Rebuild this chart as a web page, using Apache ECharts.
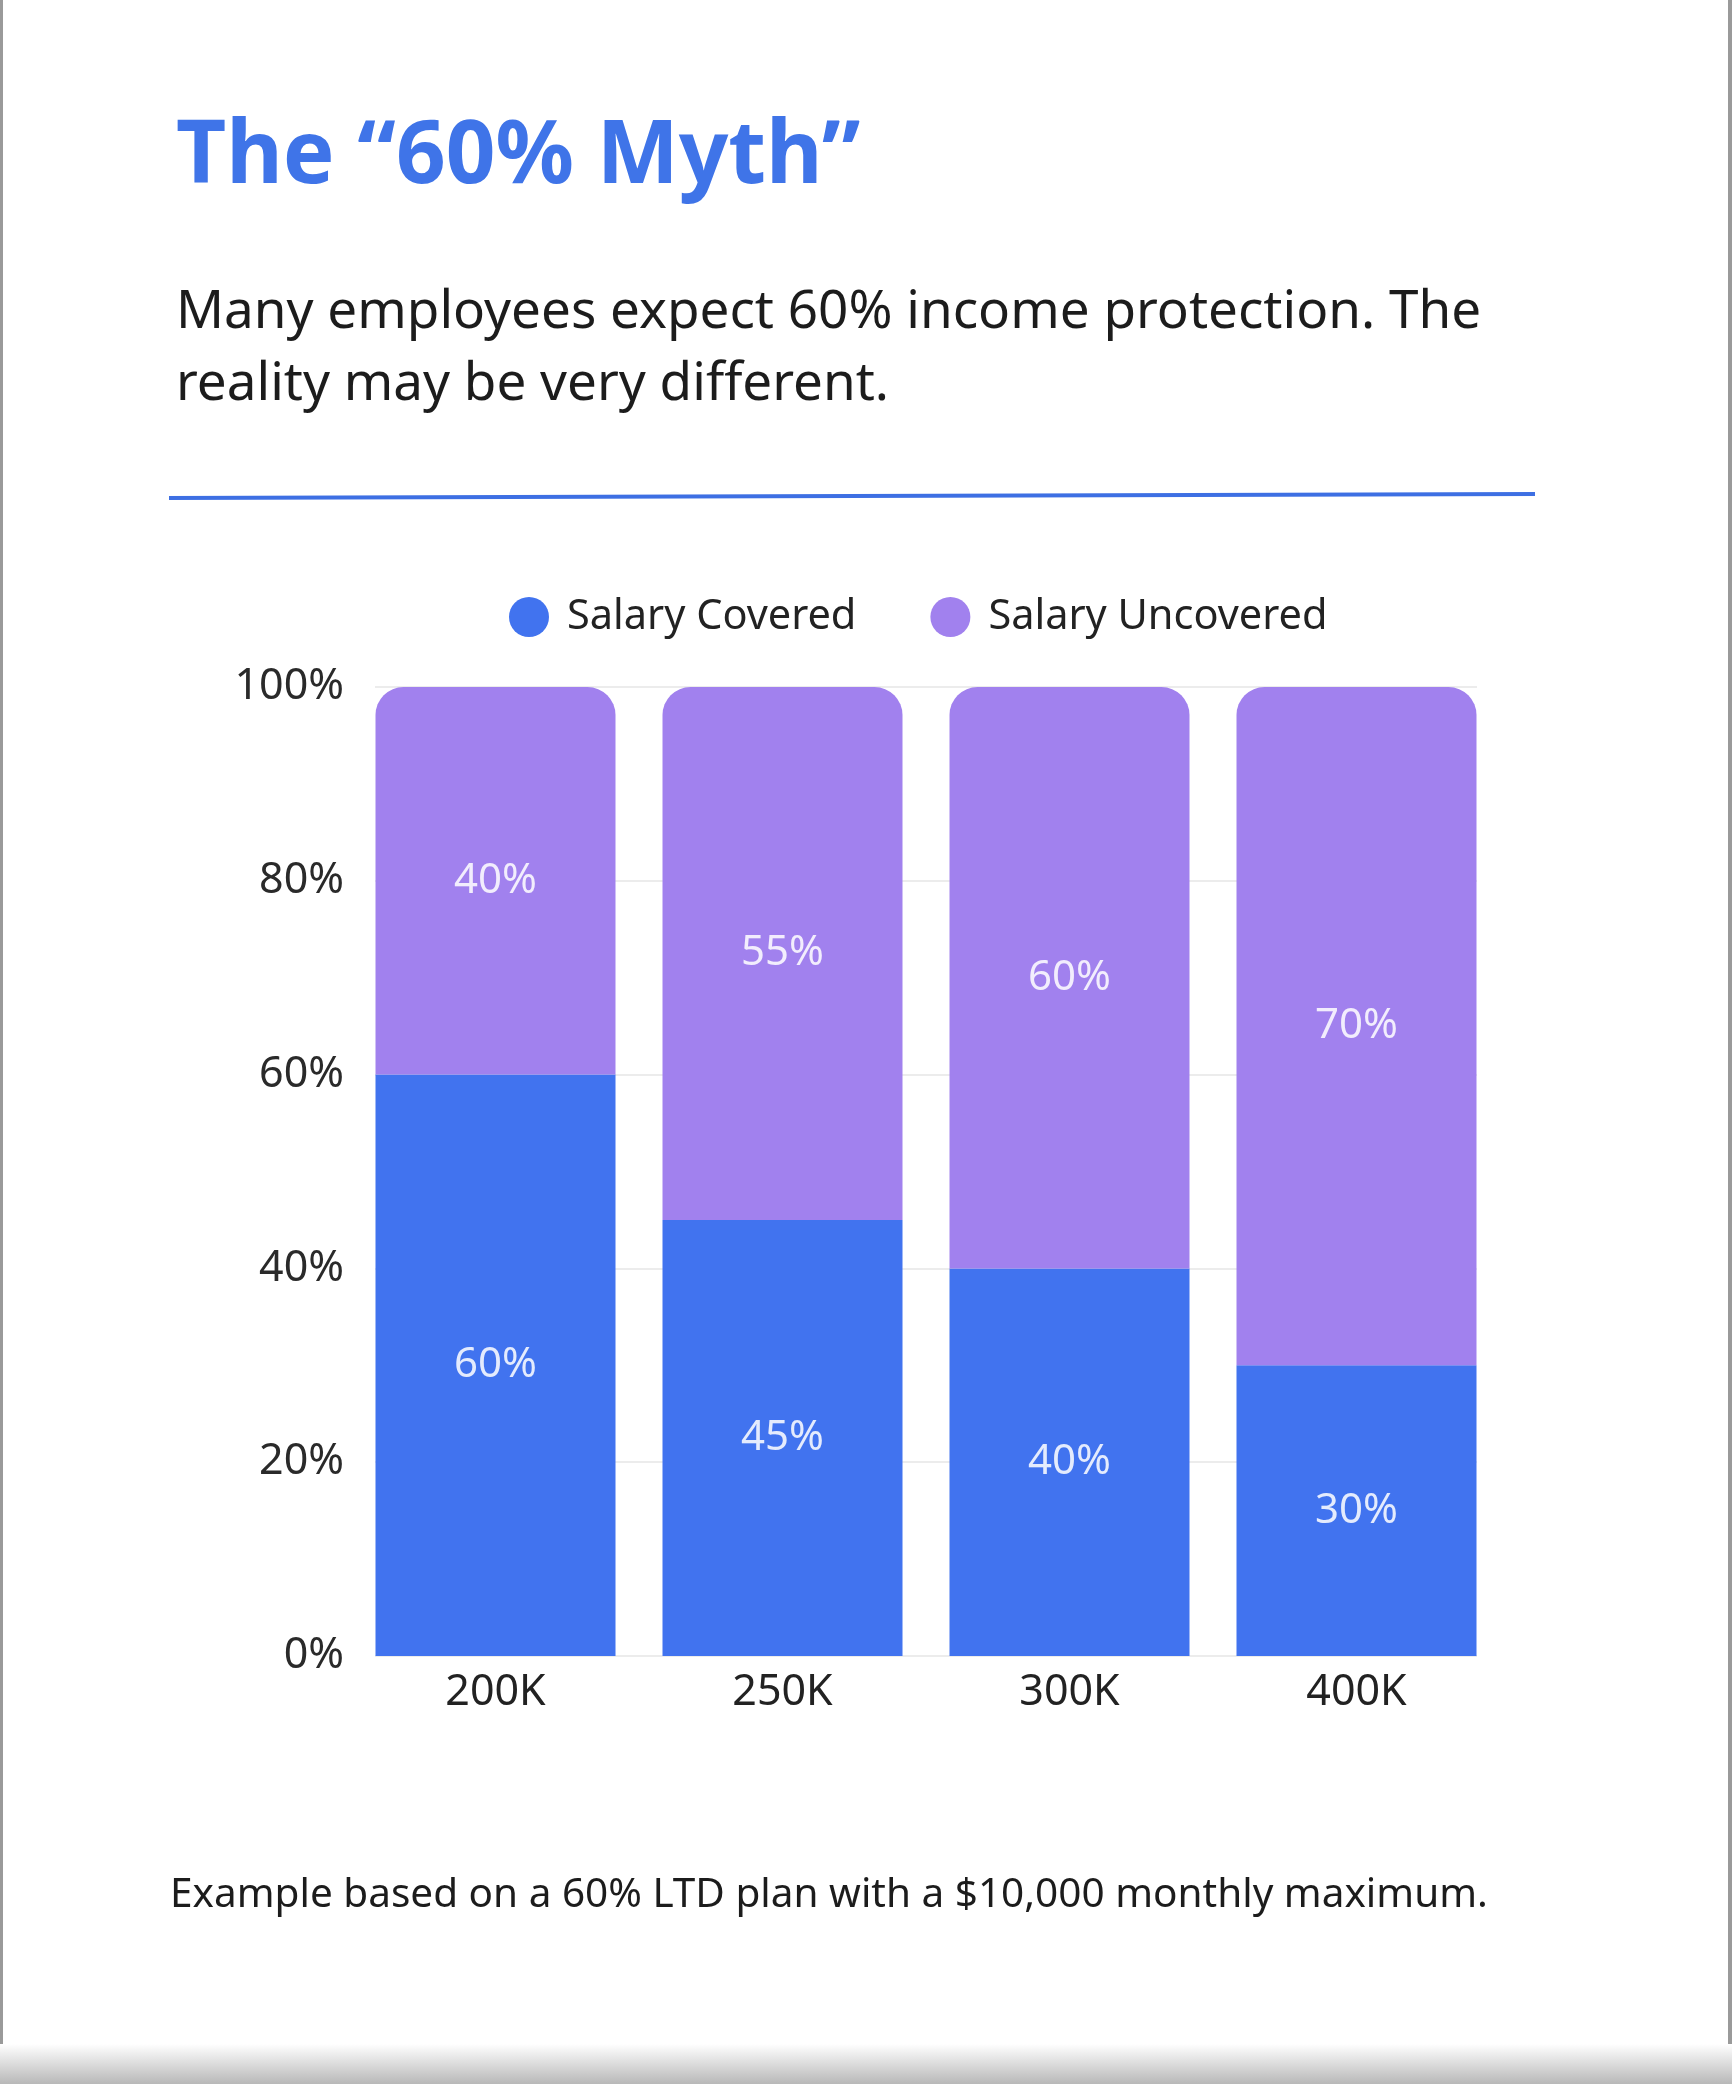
<!DOCTYPE html>
<html>
<head>
<meta charset="utf-8">
<script src="https://cdn.jsdelivr.net/npm/echarts@6/dist/echarts.min.js"></script>
<style>
html,body{margin:0;padding:0;background:#fff;}
#chart{width:1732px;height:2084px;}
</style>
</head>
<body>
<div id="chart"></div>
<script>
const categories = ['200K', '250K', '300K', '400K'];
const covered = [60, 45, 40, 30];
const uncovered = [40, 55, 60, 70];
const seriesNames = ['Salary Covered', 'Salary Uncovered'];
const yTicks = [0, 20, 40, 60, 80, 100];
const titleText = 'The \u201c60% Myth\u201d';
const subtitleLines = ['Many employees expect 60% income protection. The', 'reality may be very different.'];
const footnoteText = 'Example based on a 60% LTD plan with a $10,000 monthly maximum.';

const FONT = '"Noto Sans", sans-serif';
const BLUE = '#4173ef';
const PURPLE = '#a181ee';

const chart = echarts.init(document.getElementById('chart'), null, {renderer: 'canvas'});

const labelStyle = {
  show: true,
  position: 'inside',
  formatter: p => p.value + '%',
  color: 'rgba(255,255,255,0.86)',
  fontFamily: FONT,
  fontSize: 42
};

chart.setOption({
  backgroundColor: '#ffffff',
  animation: false,
  textStyle: {fontFamily: FONT},
  legend: {
    data: seriesNames,
    left: 504,
    top: 591,
    icon: 'circle',
    itemWidth: 40,
    itemHeight: 40,
    itemGap: 74,
    textStyle: {fontFamily: FONT, fontSize: 41.5, color: '#222', padding: [0, 0, 0, 13]}
  },
  grid: [
    {left: 352, right: 232, top: 687, bottom: 428},
    {left: 375, right: 255, top: 687, bottom: 428}
  ],
  xAxis: [
    {
      type: 'category', gridIndex: 0, data: categories,
      axisLine: {show: false}, axisTick: {show: false},
      axisLabel: {fontFamily: FONT, fontSize: 43, color: '#222', margin: 15}
    },
    {type: 'value', gridIndex: 1, show: false, min: 0, max: 1}
  ],
  yAxis: [
    {type: 'value', gridIndex: 0, min: 0, max: 100, interval: 20, show: false},
    {
      type: 'value', gridIndex: 1, min: yTicks[0], max: yTicks[yTicks.length - 1], interval: 20,
      axisLine: {show: false}, axisTick: {show: false},
      splitLine: {show: true, lineStyle: {color: '#ececec', width: 2}},
      axisLabel: {fontFamily: FONT, fontSize: 43, color: '#2a2a2a', margin: 31, formatter: v => v + '%'}
    }
  ],
  series: [
    {
      name: seriesNames[0], type: 'bar', stack: 'total', xAxisIndex: 0, yAxisIndex: 0,
      data: covered, barWidth: 240,
      itemStyle: {color: BLUE},
      label: labelStyle
    },
    {
      name: seriesNames[1], type: 'bar', stack: 'total', xAxisIndex: 0, yAxisIndex: 0,
      data: uncovered, barWidth: 240,
      itemStyle: {color: PURPLE, borderRadius: [28, 28, 0, 0]},
      label: labelStyle
    }
  ],
  graphic: [
    {type: 'rect', left: 0, top: 0, shape: {width: 3, height: 2084}, style: {fill: '#9a9a9a'}, silent: true},
    {type: 'rect', left: 1728, top: 0, shape: {width: 4, height: 2084}, style: {fill: '#9a9a9a'}, silent: true},
    {type: 'rect', left: 0, top: 2044, shape: {width: 1732, height: 40}, silent: true,
      style: {fill: new echarts.graphic.LinearGradient(0, 0, 0, 1, [{offset: 0, color: '#ffffff'}, {offset: 1, color: '#b8b8b8'}])}},
    {type: 'text', left: 176, top: 115, style: {text: titleText, fill: '#3f74e8', font: 'bold 87px ' + FONT}, silent: true},
    {type: 'text', left: 176, top: 286, style: {text: subtitleLines[0], fill: '#1c1c1c', font: '53px ' + FONT}, silent: true},
    {type: 'text', left: 176, top: 358, style: {text: subtitleLines[1], fill: '#1c1c1c', font: '53px ' + FONT}, silent: true},
    {type: 'line', shape: {x1: 169, y1: 498, x2: 1535, y2: 494}, style: {stroke: '#3d6fe3', lineWidth: 4}, silent: true},
    {type: 'text', left: 170, top: 1875, style: {text: footnoteText, fill: '#1c1c1c', font: '40.5px ' + FONT}, silent: true}
  ]
});
</script>
</body>
</html>
